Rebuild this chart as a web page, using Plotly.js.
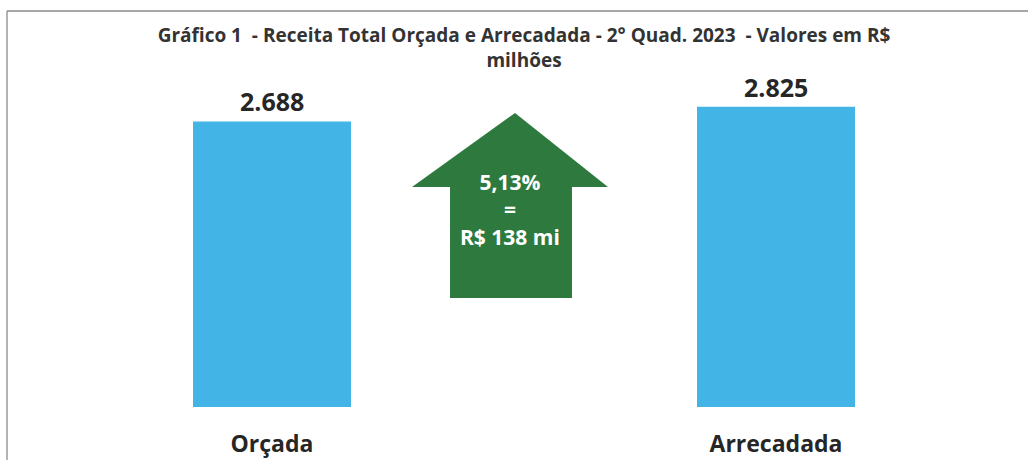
<!DOCTYPE html>
<html>
<head>
<meta charset="utf-8">
<script src="https://cdn.plot.ly/plotly-3.0.1.min.js"></script>
<style>html,body{margin:0;padding:0;background:#fff;}#chart{width:1028px;height:460px;}</style>
</head>
<body>
<div id="chart"></div>
<script>
const categories = ["Orçada", "Arrecadada"];
const values = [2688, 2825];
const valueLabels = ["2.688", "2.825"];
const arrowLines = ["5,13%", "=", "R$ 138 mi"];
const titleText = "Gráfico 1  - Receita Total Orçada e Arrecadada - 2° Quad. 2023  - Valores em R$<br>milhões";

const FONT = "'Open Sans', Lato, sans-serif";

const trace = {
  type: "bar",
  x: categories,
  y: values,
  marker: {color: "#43B4E6"},
  width: 0.3135,
  hoverinfo: "x+y"
};

// paper coordinate helpers (plot area: left 20, top 67, width 1008, height 340)
const px = v => (v - 20) / 1008;
const py = v => (407 - v) / 340;

const arrowPath = [
  ["M", px(515), py(113)],
  ["L", px(608), py(187)],
  ["L", px(572), py(187)],
  ["L", px(572), py(298)],
  ["L", px(450), py(298)],
  ["L", px(450), py(187)],
  ["L", px(412), py(187)],
  ["Z"]
].map(p => p[0] + (p.length > 1 ? p[1].toFixed(4) + "," + p[2].toFixed(4) : "")).join(" ");

const annotations = categories.map((c, i) => ({
  x: c, y: values[i], xref: "x", yref: "y",
  text: "<b>" + valueLabels[i] + "</b>",
  showarrow: false, yanchor: "middle", yshift: 20,
  font: {family: FONT, size: 25, color: "#262626"}
}));
annotations.push({
  x: px(510), y: py(210), xref: "paper", yref: "paper",
  text: arrowLines.map(t => "<b>" + t + "</b>").join("<br>"),
  showarrow: false, yanchor: "middle", align: "center",
  font: {family: FONT, size: 21, color: "#ffffff"}
});

const layout = {
  width: 1028, height: 460,
  margin: {l: 20, r: 0, t: 67, b: 53},
  paper_bgcolor: "#ffffff", plot_bgcolor: "#ffffff",
  separators: ",.",
  showlegend: false,
  title: {
    text: "<b>" + titleText + "</b>",
    x: 0.5, xref: "paper", xanchor: "center",
    y: 1 - 42 / 460, yref: "container", yanchor: "top",
    font: {family: FONT, size: 19, color: "#333333"}
  },
  xaxis: {
    type: "category", range: [-0.5, 1.5],
    showgrid: false, zeroline: false, showline: false, ticks: "",
    ticklabelstandoff: 21,
    tickfont: {family: FONT, size: 23, color: "#262626", weight: "bold"}
  },
  yaxis: {
    range: [0, 3200], visible: false, showgrid: false, zeroline: false
  },
  shapes: [
    {type: "path", xref: "paper", yref: "paper", path: arrowPath,
     fillcolor: "#2E7A3E", line: {width: 0}, layer: "above"},
    {type: "line", xref: "paper", yref: "paper", x0: px(7), x1: px(7), y0: py(460), y1: py(11),
     line: {color: "#9a9a9a", width: 1.5}},
    {type: "line", xref: "paper", yref: "paper", x0: px(7), x1: px(1028), y0: py(11), y1: py(11),
     line: {color: "#8a8a8a", width: 1.5}}
  ],
  annotations: annotations
};

Plotly.newPlot("chart", [trace], layout, {displayModeBar: false, staticPlot: true});
</script>
</body>
</html>
